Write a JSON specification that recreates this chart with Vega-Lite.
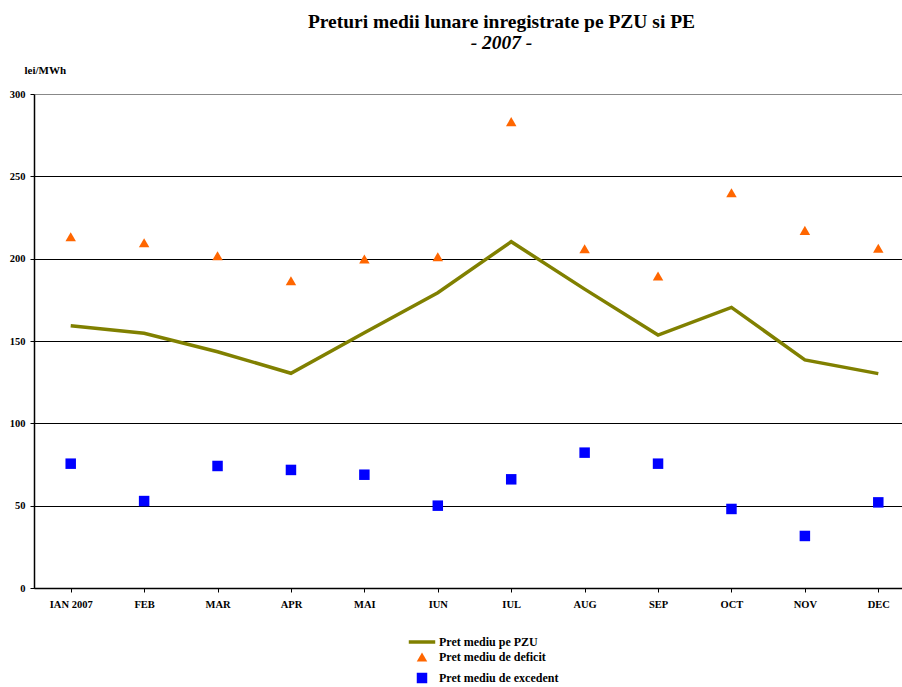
{
  "$schema": "https://vega.github.io/schema/vega-lite/v6.json",
  "autosize": {"type": "none"},
  "width": 881,
  "height": 494,
  "padding": {"left": 34, "top": 94, "right": 0, "bottom": 99},
  "background": "white",
  "config": {
    "font": "Liberation Serif",
    "view": {"stroke": null}
  },
  "title": {
    "text": "Preturi medii lunare inregistrate pe PZU si PE",
    "subtitle": "- 2007 -",
    "anchor": "middle",
    "dx": 27,
    "offset": 11,
    "font": "Liberation Serif",
    "fontSize": 19.5,
    "fontWeight": "bold",
    "color": "black",
    "subtitleFont": "Liberation Serif",
    "subtitleFontSize": 19.5,
    "subtitleFontWeight": "bold",
    "subtitleFontStyle": "italic",
    "subtitleColor": "black",
    "subtitlePadding": 1
  },
  "data": {
    "values": [
      {"luna": "IAN 2007", "serie": "Pret mediu pe PZU", "valoare": 159.3},
      {"luna": "FEB", "serie": "Pret mediu pe PZU", "valoare": 154.7},
      {"luna": "MAR", "serie": "Pret mediu pe PZU", "valoare": 143.5},
      {"luna": "APR", "serie": "Pret mediu pe PZU", "valoare": 130.4},
      {"luna": "MAI", "serie": "Pret mediu pe PZU", "valoare": 155},
      {"luna": "IUN", "serie": "Pret mediu pe PZU", "valoare": 179.3},
      {"luna": "IUL", "serie": "Pret mediu pe PZU", "valoare": 210.3},
      {"luna": "AUG", "serie": "Pret mediu pe PZU", "valoare": 181.5},
      {"luna": "SEP", "serie": "Pret mediu pe PZU", "valoare": 153.6},
      {"luna": "OCT", "serie": "Pret mediu pe PZU", "valoare": 170.4},
      {"luna": "NOV", "serie": "Pret mediu pe PZU", "valoare": 138.5},
      {"luna": "DEC", "serie": "Pret mediu pe PZU", "valoare": 130.2},
      {"luna": "IAN 2007", "serie": "Pret mediu de deficit", "valoare": 213.3},
      {"luna": "FEB", "serie": "Pret mediu de deficit", "valoare": 209.7},
      {"luna": "MAR", "serie": "Pret mediu de deficit", "valoare": 201.8},
      {"luna": "APR", "serie": "Pret mediu de deficit", "valoare": 186.6},
      {"luna": "MAI", "serie": "Pret mediu de deficit", "valoare": 199.8},
      {"luna": "IUN", "serie": "Pret mediu de deficit", "valoare": 201.2},
      {"luna": "IUL", "serie": "Pret mediu de deficit", "valoare": 283.2},
      {"luna": "AUG", "serie": "Pret mediu de deficit", "valoare": 206},
      {"luna": "SEP", "serie": "Pret mediu de deficit", "valoare": 189.5},
      {"luna": "OCT", "serie": "Pret mediu de deficit", "valoare": 240},
      {"luna": "NOV", "serie": "Pret mediu de deficit", "valoare": 217.2},
      {"luna": "DEC", "serie": "Pret mediu de deficit", "valoare": 206.3},
      {"luna": "IAN 2007", "serie": "Pret mediu de excedent", "valoare": 75.5},
      {"luna": "FEB", "serie": "Pret mediu de excedent", "valoare": 52.8},
      {"luna": "MAR", "serie": "Pret mediu de excedent", "valoare": 74.1},
      {"luna": "APR", "serie": "Pret mediu de excedent", "valoare": 71.7},
      {"luna": "MAI", "serie": "Pret mediu de excedent", "valoare": 68.8},
      {"luna": "IUN", "serie": "Pret mediu de excedent", "valoare": 50},
      {"luna": "IUL", "serie": "Pret mediu de excedent", "valoare": 66},
      {"luna": "AUG", "serie": "Pret mediu de excedent", "valoare": 82.2},
      {"luna": "SEP", "serie": "Pret mediu de excedent", "valoare": 75.5},
      {"luna": "OCT", "serie": "Pret mediu de excedent", "valoare": 48},
      {"luna": "NOV", "serie": "Pret mediu de excedent", "valoare": 31.6},
      {"luna": "DEC", "serie": "Pret mediu de excedent", "valoare": 52}
    ]
  },
  "encoding": {
    "x": {
      "field": "luna",
      "type": "nominal",
      "sort": null,
      "scale": {"paddingInner": 0, "paddingOuter": 0},
      "axis": {
        "title": null,
        "labelAngle": 0,
        "bandPosition": 0,
        "labelFont": "Liberation Serif",
        "labelFontSize": 10.5,
        "labelFontWeight": "bold",
        "labelColor": "black",
        "labelPadding": 7,
        "domainColor": "black",
        "domainWidth": 1.5,
        "tickColor": "black",
        "tickSize": 4,
        "tickWidth": 1,
        "grid": false,
        "zindex": 1
      }
    },
    "y": {
      "field": "valoare",
      "type": "quantitative",
      "scale": {"domain": [0, 300], "nice": false},
      "axis": {
        "title": "lei/MWh",
        "titleAngle": 0,
        "titleAlign": "left",
        "titleBaseline": "middle",
        "titleX": -10,
        "titleY": -24,
        "titleFont": "Liberation Serif",
        "titleFontSize": 11,
        "titleFontWeight": "bold",
        "titleColor": "black",
        "values": [0, 50, 100, 150, 200, 250, 300],
        "labelFont": "Liberation Serif",
        "labelFontSize": 10.5,
        "labelFontWeight": "bold",
        "labelColor": "black",
        "labelPadding": 5,
        "domainColor": "black",
        "domainWidth": 1.5,
        "tickColor": "black",
        "tickSize": 4,
        "grid": true,
        "gridColor": {"condition": {"test": "datum.value === 300", "value": "#888888"}, "value": "black"},
        "gridWidth": 1
      }
    }
  },
  "layer": [
    {
      "transform": [{"filter": "datum.serie === 'Pret mediu pe PZU'"}],
      "mark": {"type": "line", "strokeWidth": 3.5, "strokeJoin": "miter", "color": "#808000"},
      "encoding": {}
    },
    {
      "mark": {"type": "point", "filled": true, "size": 110},
      "encoding": {
        "color": {
          "field": "serie",
          "type": "nominal",
          "scale": {
            "domain": ["Pret mediu pe PZU", "Pret mediu de deficit", "Pret mediu de excedent"],
            "range": ["#808000", "#FF6600", "#0000FF"]
          },
          "legend": {
            "title": null,
            "orient": "none",
            "legendX": 381,
            "legendY": 541,
            "padding": 0,
            "rowPadding": -4,
            "labelFont": "Liberation Serif",
            "labelFontSize": 12,
            "labelFontWeight": "bold",
            "labelColor": "black",
            "labelOffset": 10,
            "symbolType": {"expr": "datum.value === 'Pret mediu pe PZU' ? 'stroke' : (datum.value === 'Pret mediu de deficit' ? 'triangle-up' : 'square')"},
            "symbolSize": {"expr": "datum.value === 'Pret mediu pe PZU' ? 700 : 110"},
            "symbolStrokeColor": {"expr": "datum.value === 'Pret mediu pe PZU' ? '#808000' : 'transparent'"},
            "symbolStrokeWidth": 3.5,
            "symbolOpacity": 1
          }
        },
        "shape": {
          "field": "serie",
          "type": "nominal",
          "scale": {
            "domain": ["Pret mediu pe PZU", "Pret mediu de deficit", "Pret mediu de excedent"],
            "range": ["stroke", "triangle-up", "square"]
          },
          "legend": null
        },
        "opacity": {
          "condition": {"test": "datum.serie === 'Pret mediu pe PZU'", "value": 0},
          "value": 1
        }
      }
    }
  ]
}
